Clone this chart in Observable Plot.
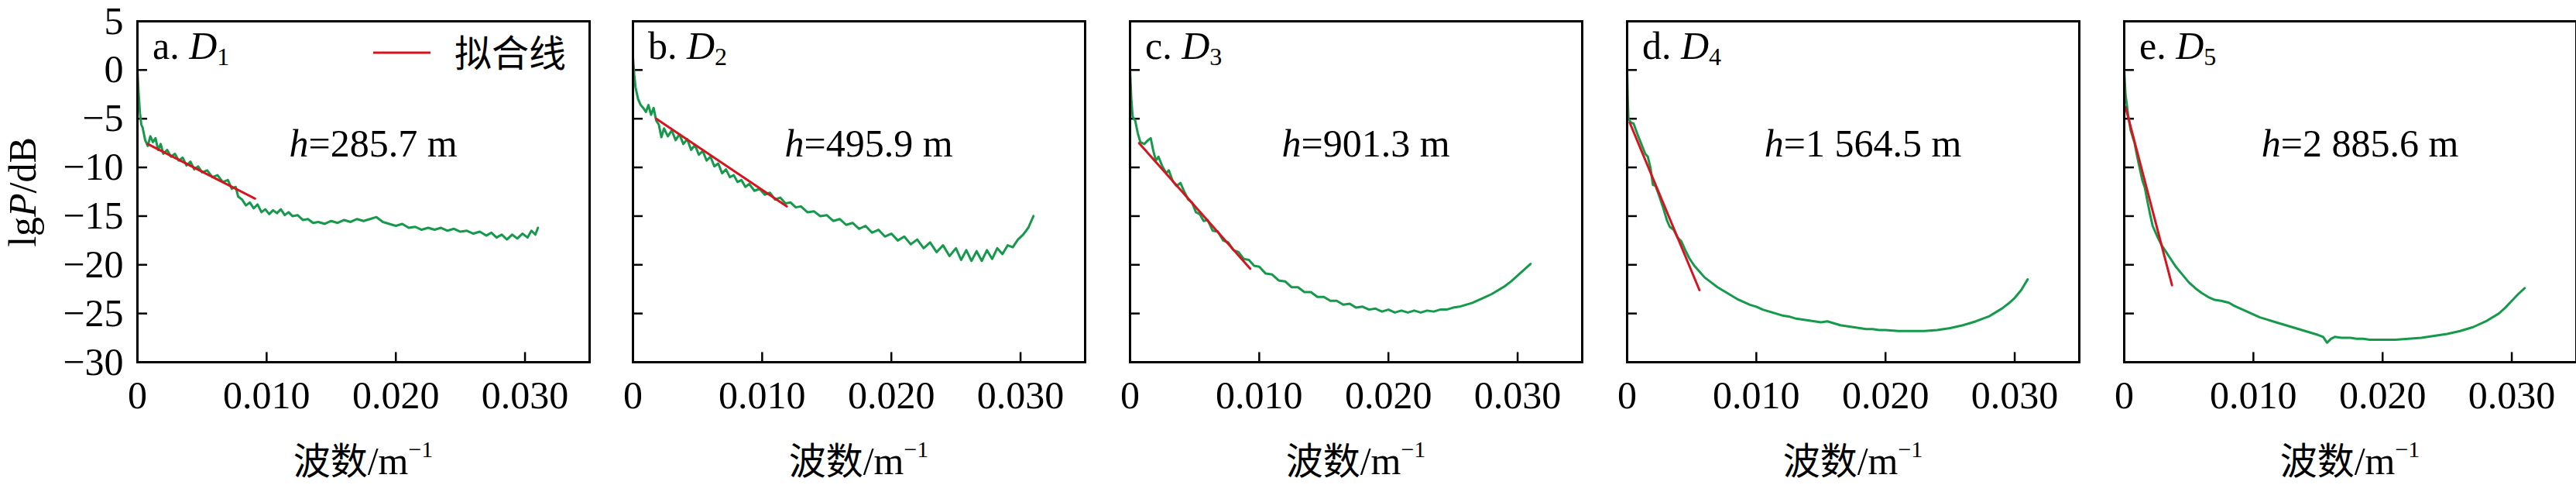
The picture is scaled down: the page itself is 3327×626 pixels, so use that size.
<!DOCTYPE html>
<html><head><meta charset="utf-8">
<script src="https://cdn.jsdelivr.net/npm/d3@7"></script>
<script src="https://cdn.jsdelivr.net/npm/@observablehq/plot@0.6"></script>
<style>body{margin:0;background:#fff}#c{position:relative;width:3327px;height:626px}#c>div{position:absolute;top:0}#c svg{max-width:none!important;overflow:visible}</style>
</head><body><div id="c"></div>
<script>
const panelLetters = ["a","b","c","d","e"];
const panelSubs = ["1","2","3","4","5"];
const heights = ["=285.7 m","=495.9 m","=901.3 m","=1 564.5 m","=2 885.6 m"];
const xTicks = [0,0.01,0.02,0.03];
const yTicks = [5,0,-5,-10,-15,-20,-25,-30];

const d1 = [[0,0],[0.0001,-2.5],[0.0002,-4.5],[0.0003,-5.6],[0.0004,-5.9],[0.0006,-7.2],[0.0008,-7.8],[0.001,-6.8],[0.0012,-7.4],[0.0014,-7.0],[0.0016,-8.2],[0.0018,-7.6],[0.002,-8.6],[0.0023,-8.2],[0.0026,-8.9],[0.0029,-8.6],[0.0032,-9.3],[0.0035,-9.0],[0.0038,-9.8],[0.0041,-9.4],[0.0044,-10.2],[0.0047,-9.9],[0.005,-10.5],[0.0054,-10.3],[0.0058,-11.0],[0.0062,-10.8],[0.0066,-11.5],[0.007,-11.3],[0.0073,-12.2],[0.0076,-12.0],[0.0078,-13.0],[0.0081,-13.3],[0.0084,-13.9],[0.0087,-13.6],[0.009,-14.2],[0.0093,-13.8],[0.0096,-14.6],[0.0099,-14.3],[0.0102,-14.8],[0.0105,-14.4],[0.0108,-14.7],[0.0111,-14.3],[0.0114,-14.9],[0.0117,-14.6],[0.012,-15.0],[0.0124,-14.9],[0.0128,-15.4],[0.0132,-15.3],[0.0136,-15.7],[0.014,-15.6],[0.0145,-15.8],[0.015,-15.5],[0.0155,-15.7],[0.016,-15.4],[0.0165,-15.6],[0.017,-15.3],[0.0175,-15.5],[0.018,-15.3],[0.0185,-15.1],[0.019,-15.6],[0.0195,-15.8],[0.02,-16.0],[0.0205,-15.8],[0.021,-16.2],[0.0215,-16.1],[0.022,-16.4],[0.0225,-16.2],[0.023,-16.4],[0.0235,-16.2],[0.024,-16.5],[0.0245,-16.3],[0.025,-16.6],[0.0255,-16.5],[0.026,-16.8],[0.0265,-16.6],[0.027,-17.0],[0.0274,-16.7],[0.0278,-17.2],[0.0282,-16.9],[0.0286,-17.4],[0.029,-16.9],[0.0294,-17.3],[0.0298,-16.8],[0.0302,-17.2],[0.0305,-16.5],[0.0308,-16.9],[0.031,-16.2]];
const d2 = [[0,1.3],[0.0001,-0.5],[0.0002,-1.8],[0.0004,-3.0],[0.0006,-3.6],[0.0008,-3.9],[0.001,-4.3],[0.0012,-3.6],[0.0014,-4.6],[0.0016,-3.9],[0.0018,-5.2],[0.002,-5.6],[0.0022,-6.9],[0.0024,-6.0],[0.0027,-6.8],[0.003,-6.2],[0.0033,-7.2],[0.0036,-6.6],[0.0039,-7.6],[0.0042,-7.1],[0.0045,-8.2],[0.0048,-7.7],[0.0051,-8.7],[0.0054,-8.3],[0.0057,-9.3],[0.006,-8.9],[0.0063,-9.9],[0.0066,-9.6],[0.0069,-10.6],[0.0072,-10.2],[0.0075,-11.0],[0.0078,-10.8],[0.0081,-11.5],[0.0084,-11.3],[0.0087,-12.0],[0.009,-11.7],[0.0094,-12.4],[0.0098,-12.2],[0.0102,-12.8],[0.0106,-12.6],[0.011,-13.3],[0.0114,-13.1],[0.0118,-13.7],[0.0122,-13.6],[0.0126,-14.1],[0.013,-14.0],[0.0135,-14.6],[0.014,-14.5],[0.0145,-15.0],[0.015,-14.9],[0.0155,-15.5],[0.016,-15.3],[0.0165,-15.9],[0.017,-15.7],[0.0175,-16.3],[0.018,-16.0],[0.0185,-16.7],[0.019,-16.4],[0.0195,-17.1],[0.02,-16.8],[0.0205,-17.5],[0.021,-17.1],[0.0215,-17.9],[0.022,-17.4],[0.0225,-18.3],[0.023,-17.7],[0.0235,-18.7],[0.024,-18.0],[0.0245,-19.1],[0.025,-18.3],[0.0254,-19.5],[0.0258,-18.5],[0.0262,-19.6],[0.0266,-18.6],[0.027,-19.6],[0.0274,-18.5],[0.0278,-19.4],[0.0282,-18.3],[0.0286,-18.9],[0.029,-18.0],[0.0294,-18.2],[0.0298,-17.4],[0.0302,-16.9],[0.0306,-16.2],[0.031,-15.0]];
const d3s = [[0,0],[0.0001,-3],[0.0002,-4.8],[0.0004,-5.2],[0.0006,-6.5],[0.0008,-7.4],[0.0011,-7.6],[0.0014,-7.2],[0.0016,-7.0],[0.0018,-8.3],[0.002,-9.3],[0.0022,-8.9],[0.0025,-9.9],[0.0028,-10.6],[0.003,-10.3],[0.0033,-11.4],[0.0036,-11.9],[0.0039,-11.6],[0.0042,-12.5],[0.0045,-13.3],[0.0048,-13.6],[0.0051,-14.6],[0.0054,-14.8],[0.0057,-15.5],[0.006,-15.4],[0.0064,-16.5],[0.0068,-16.6],[0.0072,-17.5],[0.0076,-17.7],[0.008,-18.5],[0.0084,-18.7],[0.0088,-19.4],[0.0092,-19.5],[0.0096,-20.1],[0.01,-20.2],[0.0105,-20.9],[0.011,-21.0],[0.0115,-21.6],[0.012,-21.7],[0.0125,-22.3],[0.013,-22.3],[0.0135,-22.8],[0.014,-22.8],[0.0145,-23.3],[0.015,-23.3],[0.0155,-23.7],[0.016,-23.7],[0.0165,-24.1],[0.017,-24.0],[0.0175,-24.4],[0.018,-24.3],[0.0185,-24.6],[0.019,-24.5],[0.0195,-24.8],[0.02,-24.6],[0.0205,-24.9],[0.021,-24.7],[0.0215,-24.9],[0.022,-24.7],[0.0225,-24.9],[0.023,-24.7],[0.0235,-24.8],[0.024,-24.6],[0.0245,-24.6],[0.025,-24.4],[0.0255,-24.3],[0.026,-24.1],[0.0265,-23.9],[0.027,-23.6],[0.0275,-23.3],[0.028,-23.0],[0.0285,-22.6],[0.029,-22.2],[0.0295,-21.7],[0.03,-21.1],[0.0305,-20.5],[0.031,-19.9]];
const d4 = [[0,0],[0.00005,-3],[0.0001,-5.0],[0.0003,-5.4],[0.0005,-5.5],[0.0008,-6.6],[0.0011,-7.6],[0.0014,-8.6],[0.0016,-8.9],[0.0018,-10.0],[0.002,-11.8],[0.0022,-11.9],[0.0025,-13.0],[0.0028,-14.2],[0.0031,-15.5],[0.0033,-16.1],[0.0036,-16.4],[0.0039,-17.2],[0.0042,-17.6],[0.0045,-18.5],[0.0048,-19.3],[0.0052,-20.1],[0.0056,-20.7],[0.006,-21.3],[0.0065,-21.8],[0.007,-22.3],[0.0075,-22.7],[0.008,-23.1],[0.0085,-23.5],[0.009,-23.8],[0.0095,-24.1],[0.01,-24.3],[0.0105,-24.6],[0.011,-24.8],[0.0115,-25.0],[0.012,-25.2],[0.0125,-25.3],[0.013,-25.5],[0.0135,-25.6],[0.014,-25.7],[0.0145,-25.8],[0.015,-25.9],[0.0155,-25.8],[0.016,-26.0],[0.0165,-26.2],[0.017,-26.3],[0.0175,-26.4],[0.018,-26.5],[0.0185,-26.6],[0.019,-26.6],[0.0195,-26.7],[0.02,-26.7],[0.021,-26.8],[0.022,-26.8],[0.023,-26.8],[0.024,-26.7],[0.025,-26.5],[0.026,-26.2],[0.027,-25.8],[0.028,-25.3],[0.0285,-24.9],[0.029,-24.5],[0.0295,-24.0],[0.03,-23.4],[0.0305,-22.6],[0.031,-21.5]];
const d5 = [[0,0],[0.0001,-2.5],[0.0003,-4.6],[0.0005,-6.2],[0.0008,-7.5],[0.0011,-9.5],[0.0014,-11.3],[0.0016,-12.1],[0.0018,-13.5],[0.002,-14.8],[0.0022,-16.0],[0.0024,-16.6],[0.0026,-17.2],[0.0029,-18.0],[0.0032,-18.6],[0.0035,-19.2],[0.004,-20.2],[0.0045,-21.0],[0.005,-21.8],[0.0055,-22.4],[0.006,-22.9],[0.0065,-23.3],[0.007,-23.6],[0.0075,-23.7],[0.0081,-23.9],[0.0085,-24.2],[0.009,-24.5],[0.0095,-24.8],[0.01,-25.1],[0.0105,-25.4],[0.011,-25.6],[0.0115,-25.8],[0.012,-26.0],[0.0125,-26.2],[0.013,-26.4],[0.0135,-26.6],[0.014,-26.8],[0.0145,-27.0],[0.015,-27.2],[0.0154,-27.4],[0.0157,-28.0],[0.016,-27.6],[0.0163,-27.4],[0.0168,-27.5],[0.0175,-27.5],[0.018,-27.6],[0.0185,-27.6],[0.019,-27.7],[0.0195,-27.7],[0.02,-27.7],[0.021,-27.7],[0.022,-27.6],[0.023,-27.5],[0.024,-27.3],[0.025,-27.1],[0.026,-26.8],[0.027,-26.4],[0.028,-25.8],[0.029,-25.0],[0.0295,-24.4],[0.03,-23.7],[0.0305,-23.0],[0.031,-22.4]];
const fit1 = [[0.0008,-7.6],[0.0091,-13.2]];
const fit2 = [[0.0018,-5.0],[0.0119,-14.0]];
const fit3 = [[0.0007,-7.5],[0.0093,-20.4]];
const fit4 = [[0.0002,-5.4],[0.0056,-22.6]];
const fit5 = [[0.0001,-3.8],[0.0037,-22.1]];
const spectra = [d1,d2,d3s,d4,d5];
const fits = [fit1,fit2,fit3,fit4,fit5];

const frameLefts = [177,817,1459,2101,2743];
const frameW = 584, H = 626, mTop = 27, mBottom = 159;
const serif = "Liberation Serif, Times New Roman, serif";
const cjk = "Noto Sans CJK SC";
const GREEN = "#15994a", RED = "#d7141e";
const FS = 50;
const fmtY = d => d < 0 ? "\u2212" + (-d) : String(d);
const fmtX = d => d === 0 ? "0" : d.toFixed(3);
const c = document.getElementById("c");

spectra.forEach((data, i) => {
  const mL = i === 0 ? 177 : 20, mR = 20;
  const W = mL + frameW + mR;
  const marks = [
    Plot.axisX(xTicks, {tickSize: 0, tickPadding: 24, tickFormat: fmtX, fontSize: FS}),
    Plot.ruleX(xTicks.slice(1), {x: d => d, y1: -30, y2: -29, stroke: "#000", strokeWidth: 2.5}),
    Plot.ruleY(yTicks.slice(1, -1), {y: d => d, x1: 0, x2: 0.00078, stroke: "#000", strokeWidth: 2.5}),
    Plot.line(data, {x: d => d[0], y: d => d[1], stroke: GREEN, strokeWidth: 3}),
    Plot.line(fits[i], {x: d => d[0], y: d => d[1], stroke: RED, strokeWidth: 3}),
    Plot.frame({stroke: "#000", strokeWidth: 3})
  ];
  if (i === 0) marks.unshift(Plot.axisY(yTicks, {tickSize: 0, tickPadding: 18, tickFormat: fmtY, fontSize: FS}));
  const svg = Plot.plot({
    width: W, height: H,
    marginLeft: mL, marginRight: mR, marginTop: mTop, marginBottom: mBottom,
    style: {fontFamily: serif, fontSize: FS + "px", color: "#000", background: "transparent"},
    x: {domain: [0, 0.035], axis: null},
    y: {domain: [-30, 5], axis: null},
    marks
  });
  const s = d3.select(svg);
  const t = s.append("text").attr("x", mL + 20).attr("y", 76).attr("text-anchor", "start").attr("font-family", serif).attr("font-size", FS).attr("fill", "#000");
  t.append("tspan").text(panelLetters[i] + ". ");
  t.append("tspan").attr("font-style", "italic").text("D");
  t.append("tspan").attr("font-size", 32).attr("dy", 8).text(panelSubs[i]);
  const h = s.append("text").attr("x", mL + 305).attr("y", 202).attr("text-anchor", "middle").attr("font-family", serif).attr("font-size", FS);
  h.append("tspan").attr("font-style", "italic").text("h");
  h.append("tspan").text(heights[i]);
  const xl = s.append("text").attr("x", mL + frameW / 2).attr("y", 612).attr("text-anchor", "middle").attr("font-size", FS);
  xl.append("tspan").attr("font-family", cjk).attr("font-size", 48).text("波数");
  xl.append("tspan").attr("font-family", serif).text("/m");
  xl.append("tspan").attr("font-family", serif).attr("font-size", 30).attr("dy", -22).text("−1");
  if (i === 0) {
    const yl = s.append("text").attr("transform", "translate(46,248) rotate(-90)").attr("text-anchor", "middle").attr("font-family", serif).attr("font-size", FS);
    yl.append("tspan").text("lg");
    yl.append("tspan").attr("font-style", "italic").text("P");
    yl.append("tspan").text("/dB");
    s.append("line").attr("x1", mL + 305).attr("x2", mL + 379).attr("y1", 68).attr("y2", 68).attr("stroke", RED).attr("stroke-width", 3);
    s.append("text").attr("x", mL + 410).attr("y", 86).attr("text-anchor", "start").attr("font-family", cjk).attr("font-size", 48).text("拟合线");
  }
  const wrap = document.createElement("div");
  wrap.style.left = (frameLefts[i] - mL) + "px";
  wrap.style.width = W + "px";
  wrap.style.height = H + "px";
  wrap.appendChild(svg);
  c.appendChild(wrap);
});
</script></body></html>
